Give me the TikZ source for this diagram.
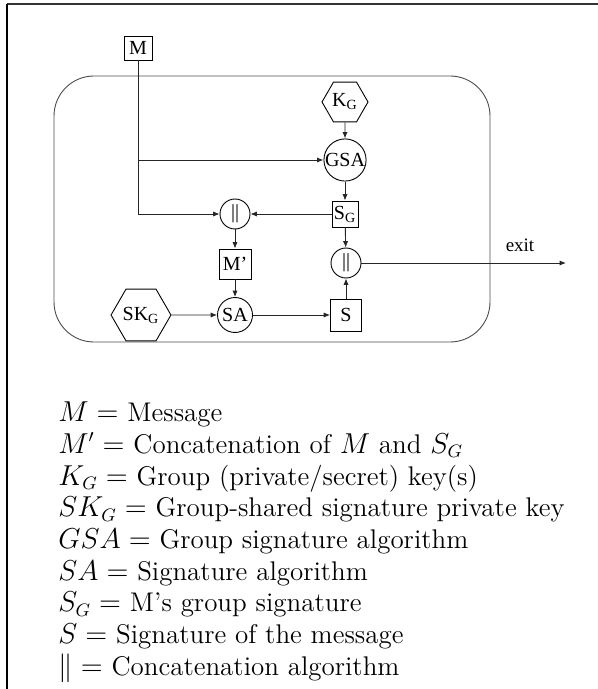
\documentclass[tikz,border=0pt]{standalone}
\usepackage{fontspec}
\newfontfamily\diag{Liberation Serif}
\usetikzlibrary{shapes.geometric,arrows.meta}
\tikzset{
  conn/.style={line width=0.45pt, draw=black!85, -{Latex[length=3.2pt,width=2.6pt]}},
  boxnode/.style={draw, line width=0.45pt, inner sep=0pt, font=\diag\fontsize{10}{11}\selectfont},
  circnode/.style={draw, circle, line width=0.45pt, inner sep=0pt, font=\diag\fontsize{10}{11}\selectfont},
  hexnode/.style={draw, regular polygon, regular polygon sides=6, minimum size=23pt, inner sep=0pt, line width=0.45pt, font=\diag\fontsize{10}{11}\selectfont},
  legend/.style={anchor=base west, inner sep=0pt, font=\fontsize{13.5}{15}\selectfont},
  lbl/.style={font=\diag\fontsize{9.5}{10}\selectfont, inner sep=0pt}
}
\begin{document}
\begin{tikzpicture}[x=0.5pt,y=-0.5pt]
\useasboundingbox (0,0) rectangle (598,689);
% frame lines
\draw[line width=1pt, draw=black!80] (7,4) -- (598,4);
\draw[line width=1pt] (7,4) -- (7,689);
% rounded container
\draw[line width=0.45pt, draw=black!70, rounded corners=20pt] (54,76) rectangle (490,342);
% nodes
\node[boxnode, minimum width=14pt, minimum height=12pt] (M) at (138,48) {M};
\node[hexnode] (KG) at (345,102) {K\textsubscript{G}};
\node[circnode, minimum size=21pt] (GSA) at (345,160) {GSA};
\node[boxnode, minimum size=13pt] (SG) at (345,214) {S\textsubscript{G}};
\node[circnode, minimum size=15pt] (CL) at (235,214) {||};
\node[boxnode, minimum width=16pt, minimum height=15pt] (Mp) at (235,264) {M’};
\node[circnode, minimum size=17.5pt] (SA) at (235,315) {SA};
\node[hexnode] (SKG) at (141,315) {SK\textsubscript{G}};
\node[boxnode, minimum width=15.5pt, minimum height=16pt] (S) at (346,315) {S};
\node[circnode, minimum size=15pt] (CR) at (346,263) {||};
\coordinate (exit) at (566,263);
\node[lbl] (exitlbl) at (520,245) {exit};
% connectors
\draw[conn] (M.south) |- (CL.west);
\draw[conn] (M.south |- GSA.west) -- (GSA.west);
\draw[conn] (KG) -- (GSA);
\draw[conn] (GSA) -- (SG);
\draw[conn] (SG) -- (CL);
\draw[conn] (SG) -- (CR);
\draw[conn] (CL) -- (Mp);
\draw[conn] (Mp) -- (SA);
\draw[conn] (SKG) -- (SA);
\draw[conn] (SA) -- (S);
\draw[conn] (S) -- (CR);
\draw[conn] (CR) -- (exit);
% legend
\node[legend] (l1) at (58,421.7) {$M=$ Message};
\node[legend] (l2) at (58,453.4) {$M'=$ Concatenation of $M$ and $S_G$};
\node[legend] (l3) at (58,485.0) {$K_G=$ Group (private/secret) key(s)};
\node[legend] (l4) at (58,516.7) {$SK_G=$ Group-shared signature private key};
\node[legend] (l5) at (58,548.3) {$GSA=$ Group signature algorithm};
\node[legend] (l6) at (58,580.0) {$SA=$ Signature algorithm};
\node[legend] (l7) at (58,611.7) {$S_G=$ M’s group signature};
\node[legend] (l8) at (58,643.3) {$S=$ Signature of the message};
\node[legend] (l9) at (58,675.0) {$\|=$ Concatenation algorithm};
\end{tikzpicture}
\end{document}
